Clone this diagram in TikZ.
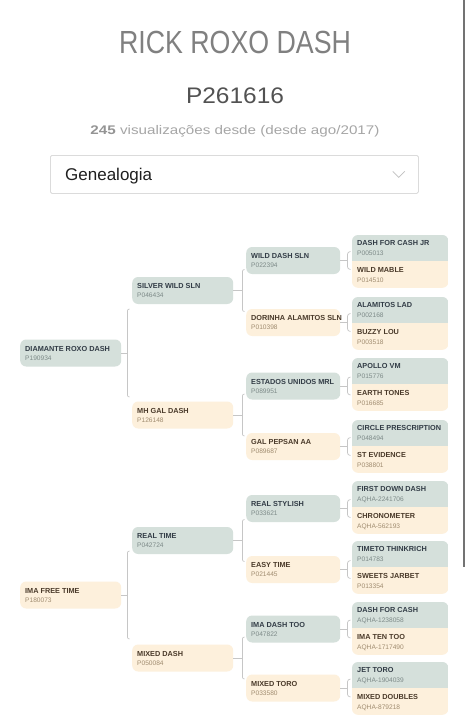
\documentclass[tikz,border=0pt]{standalone}
\usepackage{fontspec}
\setmainfont{Liberation Sans}
\usepackage{graphicx}
\definecolor{sirefill}{HTML}{D5E0DB}
\definecolor{damfill}{HTML}{FDF0DC}
\definecolor{sirename}{HTML}{323C46}
\definecolor{damname}{HTML}{4A3A2A}
\definecolor{sireid}{HTML}{7D8A88}
\definecolor{damid}{HTML}{A08C70}
\definecolor{brcol}{HTML}{C6C6C6}
\tikzset{
  sirebox/.style={fill=sirefill, rounded corners=6pt, inner sep=0pt},
  dambox/.style={fill=damfill, rounded corners=6pt, inner sep=0pt},
  sirename/.style={text=sirename, font=\fontsize{7.3}{8}\selectfont\bfseries, inner sep=0pt},
  damname/.style={text=damname, font=\fontsize{7.3}{8}\selectfont\bfseries, inner sep=0pt},
  sireid/.style={text=sireid, font=\fontsize{6.6}{7}\selectfont, inner sep=0pt},
  damid/.style={text=damid, font=\fontsize{6.6}{7}\selectfont, inner sep=0pt},
  half/.style={minimum width=96pt, minimum height=26pt, inner sep=0pt, anchor=north west},
  br/.style={draw=brcol, line width=0.7pt},
}
% #1 name, #2 x, #3 mid y, #4 width, #5 kind, #6 label, #7 id
\newcommand\hnode[7]{%
  \node[#5box, anchor=west, minimum width=#4pt, minimum height=27pt] (#1) at (#2,#3) {};
  \node[#5name, anchor=base west] (#1-n) at ([xshift=5pt,yshift=2pt]#1.west) {#6};
  \node[#5id, anchor=base west] (#1-i) at ([xshift=5pt,yshift=-7pt]#1.west) {#7};}
% #1 name, #2 x, #3 top, #4 sire label, #5 sire id, #6 dam label, #7 dam id
\newcommand\hpair[7]{%
  \node[half] (#1s) at (#2,#3) {};
  \node[half] (#1d) at (#1s.south west) {};
  \begin{scope}
    \clip[rounded corners=6pt] (#1s.north west) rectangle (#1d.south east);
    \fill[sirefill] (#1s.north west) rectangle (#1s.south east);
    \fill[damfill] (#1d.north west) rectangle (#1d.south east);
  \end{scope}
  \node[sirename, anchor=base west] (#1s-n) at ([xshift=5pt,yshift=2.5pt]#1s.west) {#4};
  \node[sireid, anchor=base west] (#1s-i) at ([xshift=5pt,yshift=-7.5pt]#1s.west) {#5};
  \node[damname, anchor=base west] (#1d-n) at ([xshift=5pt,yshift=2.5pt]#1d.west) {#6};
  \node[damid, anchor=base west] (#1d-i) at ([xshift=5pt,yshift=-7.5pt]#1d.west) {#7};}
% #1 parent node, #2 gap, #3 half height, #4 corner
\newcommand\hbracket[4]{%
  \draw[br] (#1.east) -- ([xshift=#2pt]#1.east);
  \draw[br, rounded corners=#4pt] ([xshift=#2pt+#4pt,yshift=#3pt]#1.east) -- ([xshift=#2pt,yshift=#3pt]#1.east) -- ([xshift=#2pt,yshift=-#3pt]#1.east) -- ([xshift=#2pt+#4pt,yshift=-#3pt]#1.east);}
\begin{document}
\begin{tikzpicture}[x=1pt, y=-1pt]
\useasboundingbox (0,0) rectangle (470,720);
\fill[white] (0,0) rectangle (470,720);
% header
\node[anchor=base, inner sep=0pt, text=black!50, font=\fontsize{32}{36}\selectfont] (title) at (235,53) {\resizebox{232pt}{\height}{RICK ROXO DASH}};
\node[anchor=base, inner sep=0pt, text=black!68, font=\fontsize{22.5}{26}\selectfont] (code) at (235,103) {\resizebox{98pt}{\height}{P261616}};
\node[anchor=base, inner sep=0pt, text=black!35, font=\fontsize{12.5}{14}\selectfont] (views) at (235,134) {\resizebox{289pt}{\height}{{\bfseries\color{black!42}245} visualizações desde (desde ago/2017)}};
\node[draw=black!14, line width=0.8pt, rounded corners=1.5pt, anchor=north west, minimum width=368pt, minimum height=38pt, inner sep=0pt] (dd) at (50,155) {};
\node[anchor=base west, inner sep=0pt, text=black!88, font=\fontsize{17}{20}\selectfont] (ddtext) at (65,180) {Genealogia};
\draw[black!25, line width=0.7pt] ([xshift=-26pt,yshift=3pt]dd.east) -- ([xshift=-20pt,yshift=-3pt]dd.east) -- ([xshift=-14pt,yshift=3pt]dd.east);
% scrollbar
\fill[black!55] (462.5,0) rectangle (465,567);
% generation 1
\hnode{g1a}{20}{353}{101}{sire}{DIAMANTE ROXO DASH}{P190934}
\hnode{g1b}{20}{595}{101}{dam}{IMA FREE TIME}{P180073}
% generation 2
\hnode{g2a}{132}{290.5}{101}{sire}{SILVER WILD SLN}{P046434}
\hnode{g2b}{132}{415}{101}{dam}{MH GAL DASH}{P126148}
\hnode{g2c}{132}{540.5}{101}{sire}{REAL TIME}{P042724}
\hnode{g2d}{132}{658}{101}{dam}{MIXED DASH}{P050084}
% generation 3
\hnode{g3a}{246}{260.5}{94}{sire}{WILD DASH SLN}{P022394}
\hnode{g3b}{246}{322.5}{94}{dam}{DORINHA ALAMITOS SLN}{P010398}
\hnode{g3c}{246}{386}{94}{sire}{ESTADOS UNIDOS MRL}{P089951}
\hnode{g3d}{246}{446.5}{94}{dam}{GAL PEPSAN AA}{P089687}
\hnode{g3e}{246}{508.5}{94}{sire}{REAL STYLISH}{P033621}
\hnode{g3f}{246}{569.5}{94}{dam}{EASY TIME}{P021445}
\hnode{g3g}{246}{629}{94}{sire}{IMA DASH TOO}{P047822}
\hnode{g3h}{246}{688}{94}{dam}{MIXED TORO}{P033580}
% generation 4
\hpair{g4a}{352}{235}{DASH FOR CASH JR}{P005013}{WILD MABLE}{P014510}
\hpair{g4b}{352}{297}{ALAMITOS LAD}{P002168}{BUZZY LOU}{P003518}
\hpair{g4c}{352}{358}{APOLLO VM}{P015776}{EARTH TONES}{P016685}
\hpair{g4d}{352}{420}{CIRCLE PRESCRIPTION}{P048494}{ST EVIDENCE}{P038801}
\hpair{g4e}{352}{481}{FIRST DOWN DASH}{AQHA-2241706}{CHRONOMETER}{AQHA-562193}
\hpair{g4f}{352}{541}{TIMETO THINKRICH}{P014783}{SWEETS JARBET}{P013354}
\hpair{g4g}{352}{602}{DASH FOR CASH}{AQHA-1238058}{IMA TEN TOO}{AQHA-1717490}
\hpair{g4h}{352}{662}{JET TORO}{AQHA-1904039}{MIXED DOUBLES}{AQHA-879218}
% brackets
\hbracket{g1a}{6}{44}{2}
\hbracket{g1b}{6}{44}{2}
\hbracket{g2a}{9}{21}{2}
\hbracket{g2b}{9}{21}{2}
\hbracket{g2c}{9}{21}{2}
\hbracket{g2d}{9}{21}{2}
\hbracket{g3a}{7}{9}{3}
\hbracket{g3b}{7}{9}{3}
\hbracket{g3c}{7}{9}{3}
\hbracket{g3d}{7}{9}{3}
\hbracket{g3e}{7}{9}{3}
\hbracket{g3f}{7}{9}{3}
\hbracket{g3g}{7}{9}{3}
\hbracket{g3h}{7}{9}{3}
\end{tikzpicture}
\end{document}
